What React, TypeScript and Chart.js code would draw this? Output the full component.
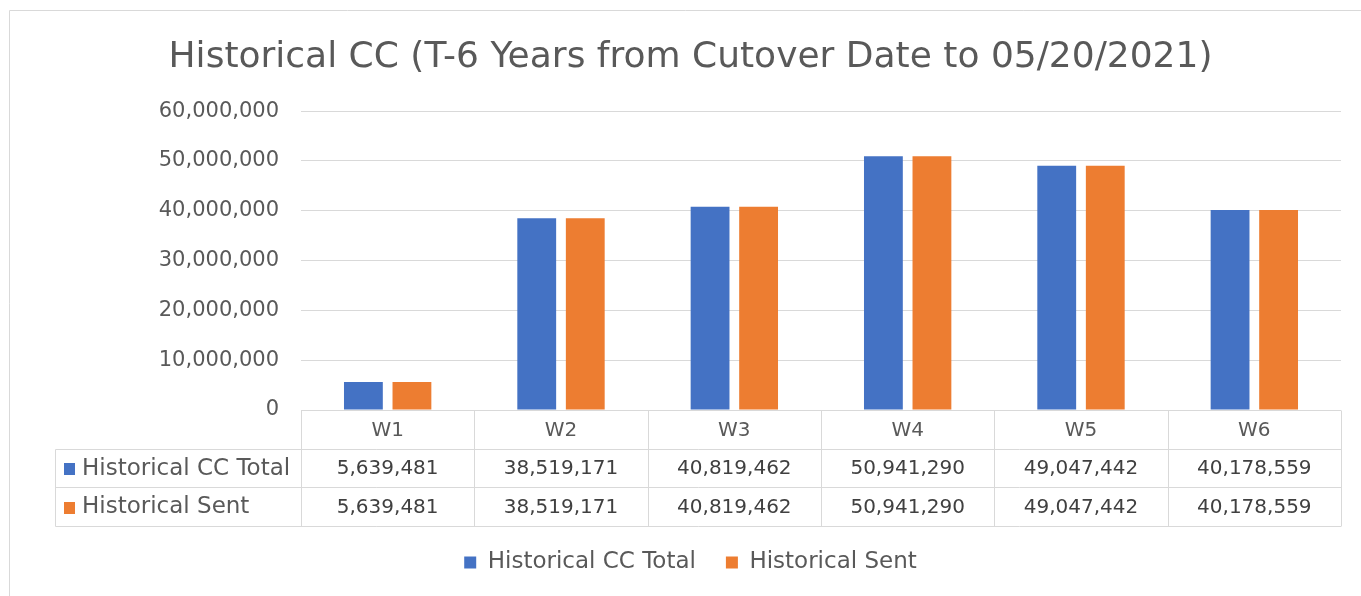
import React, { useEffect, useRef } from "react";
import { Chart, registerables } from "chart.js";

Chart.register(...registerables);

const categories = ["W1", "W2", "W3", "W4", "W5", "W6"];
const ccTotal = [5639481, 38519171, 40819462, 50941290, 49047442, 40178559];
const sent = [5639481, 38519171, 40819462, 50941290, 49047442, 40178559];
const seriesNames = ["Historical CC Total", "Historical Sent"];
const seriesColors = ["#4472C4", "#ED7D31"];
const yTicks = [0, 10000000, 20000000, 30000000, 40000000, 50000000, 60000000];
const titleText = "Historical CC (T-6 Years from Cutover Date to 05/20/2021)";

const FONT = "'DejaVu Sans', sans-serif";
const fmt = (v: number) => v.toLocaleString("en-US");

const frameAndTable = {
  id: "frameAndTable",
  beforeDraw(chart: any) {
    const ctx = chart.ctx;
    ctx.save();
    ctx.strokeStyle = "#d9d9d9";
    ctx.lineWidth = 1;
    ctx.beginPath();
    ctx.moveTo(9.5, chart.height + 5);
    ctx.lineTo(9.5, 10.5);
    ctx.lineTo(chart.width + 5, 10.5);
    ctx.stroke();
    ctx.restore();
  },
  afterDraw(chart: any) {
    const ctx = chart.ctx;
    const xs = chart.scales.x;
    const area = chart.chartArea;
    const n = categories.length;
    const colW = (area.right - area.left) / n;
    const top = area.bottom;
    const r1 = top + 39;
    const r2 = r1 + 38;
    const r3 = r2 + 39;
    const labelLeft = 55;
    ctx.save();
    ctx.strokeStyle = "#d9d9d9";
    ctx.lineWidth = 1;
    ctx.beginPath();
    [r1, r2, r3].forEach((y) => {
      const yy = Math.round(y) + 0.5;
      ctx.moveTo(labelLeft + 0.5, yy);
      ctx.lineTo(area.right, yy);
    });
    ctx.moveTo(labelLeft + 0.5, Math.round(r1) + 0.5);
    ctx.lineTo(labelLeft + 0.5, Math.round(r3) + 0.5);
    for (let i = 0; i <= n; i++) {
      const x = Math.round(xs.getPixelForValue(i) - colW / 2) + 0.5;
      ctx.moveTo(x, Math.round(top) + 0.5);
      ctx.lineTo(x, Math.round(r3) + 0.5);
    }
    ctx.stroke();

    const rows = [ccTotal, sent];
    const rowTops = [r1, r2];
    const rowBottoms = [r2, r3];
    ctx.textBaseline = "middle";
    rows.forEach((vals, ri) => {
      const cy = (rowTops[ri] + rowBottoms[ri]) / 2 + 1;
      ctx.fillStyle = seriesColors[ri];
      ctx.fillRect(64, Math.round(cy - 6), 11, 12);
      ctx.fillStyle = "#595959";
      ctx.font = `23px ${FONT}`;
      ctx.textAlign = "left";
      ctx.fillText(seriesNames[ri], 82, cy);
      ctx.font = `20px ${FONT}`;
      ctx.textAlign = "center";
      ctx.fillStyle = "#404040";
      vals.forEach((v, ci) => {
        ctx.fillText(fmt(v), xs.getPixelForValue(ci), cy);
      });
    });
    ctx.restore();
  },
};

export default function App() {
  const ref = useRef<HTMLCanvasElement | null>(null);
  useEffect(() => {
    if (!ref.current) return;
    Chart.defaults.font.family = FONT;
    const chart = new Chart(ref.current, {
      type: "bar",
      data: {
        labels: categories,
        datasets: [
          { label: seriesNames[0], data: ccTotal, backgroundColor: seriesColors[0], borderWidth: 0 },
          { label: seriesNames[1], data: sent, backgroundColor: seriesColors[1], borderWidth: 0 },
        ],
      },
      options: {
        responsive: false,
        animation: false,
        events: [],
        layout: { padding: { top: 20, right: 20, bottom: 12, left: 40 } },
        datasets: { bar: { categoryPercentage: 0.56, barPercentage: 0.8 } },
        plugins: {
          title: {
            display: true,
            text: titleText,
            color: "#595959",
            font: { size: 36, weight: "normal", family: FONT },
            padding: { top: 16, bottom: 32 },
          },
          legend: {
            display: true,
            position: "bottom",
            labels: {
              color: "#595959",
              font: { size: 23, family: FONT },
              boxWidth: 12,
              boxHeight: 12,
              padding: 30,
            },
          },
          tooltip: { enabled: false },
        },
        scales: {
          x: {
            grid: { display: false, drawTicks: false },
            border: { display: false },
            ticks: { color: "#595959", font: { size: 20, family: FONT }, padding: 9 },
            afterFit(scale: any) {
              scale.height = 111;
            },
          },
          y: {
            min: 0,
            max: 60000000,
            afterBuildTicks(scale: any) {
              scale.ticks = yTicks.map((v) => ({ value: v }));
            },
            grid: { color: "#d9d9d9", drawTicks: false },
            border: { display: false },
            ticks: {
              color: "#595959",
              font: { size: 21, family: FONT },
              padding: 22,
              callback: (v: any) => fmt(Number(v)),
            },
            afterFit(scale: any) {
              scale.width = 261;
            },
          },
        },
      },
      plugins: [frameAndTable],
    });
    return () => chart.destroy();
  }, []);
  return (
    <canvas
      ref={ref}
      width={1361}
      height={596}
      style={{ position: "fixed", left: 0, top: 0, display: "block", background: "#fff" }}
    />
  );
}
